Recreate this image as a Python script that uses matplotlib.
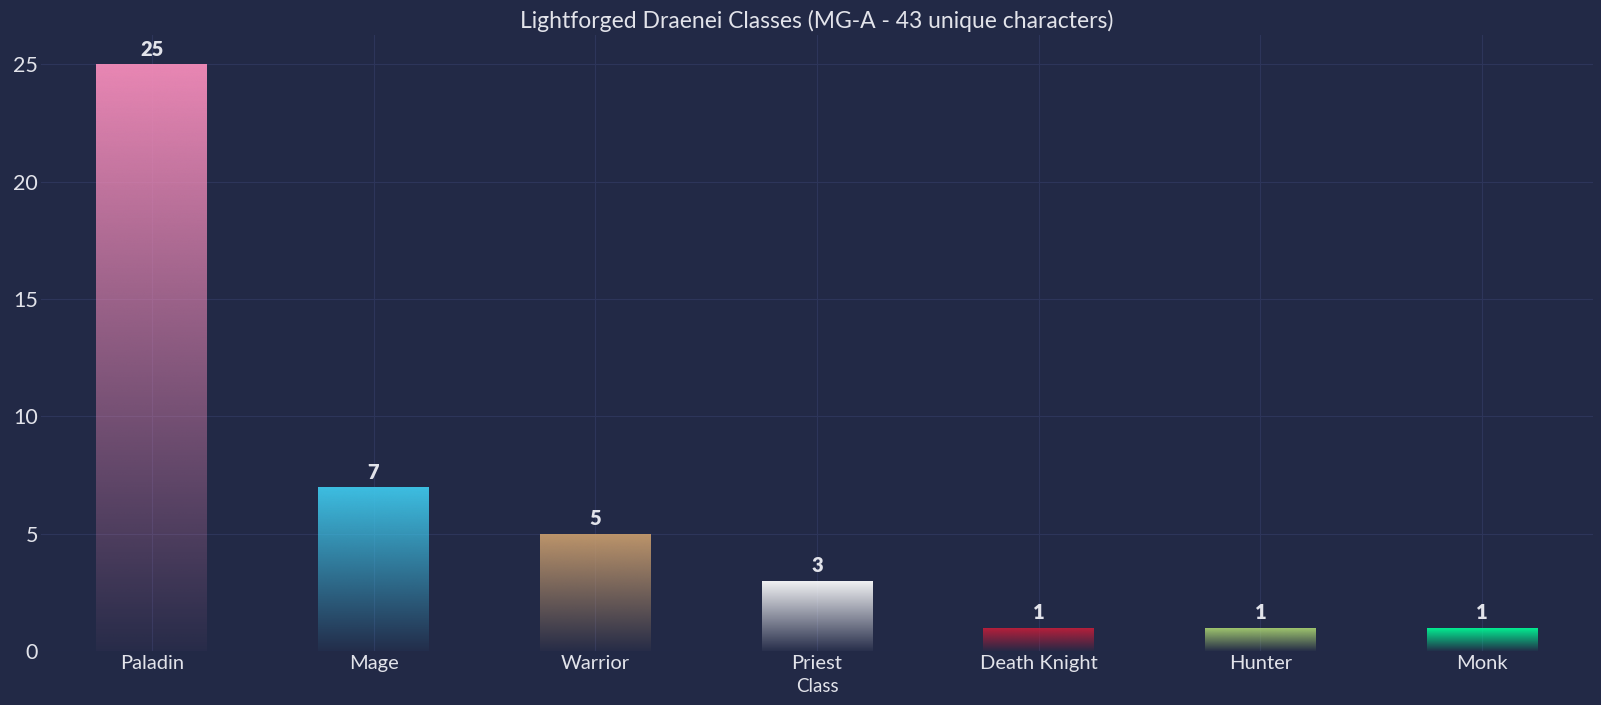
import numpy as np
import matplotlib
matplotlib.use('Agg')
import matplotlib.pyplot as plt
from matplotlib.colors import to_rgb


classes = ['Paladin', 'Mage', 'Warrior', 'Priest', 'Death Knight', 'Hunter', 'Monk']
counts = [25, 7, 5, 3, 1, 1, 1]
class_colors = ['#F48CBA', '#3FC7EB', '#C69B6D', '#FFFFFF', '#C41E3A', '#AAD372', '#00FF98']

bg = '#222946'
grid_col = '#2d355a'
text_col = '#e2e3ea'

plt.rcParams['font.family'] = ['Lato', 'DejaVu Sans']

fig = plt.figure(figsize=(16.01, 7.05), dpi=100, facecolor=bg)
ax = fig.add_axes([0.0256, 0.0766, 0.9694, 0.8738])
ax.set_facecolor(bg)

x = np.arange(len(classes))
bars = ax.bar(x, counts, width=0.5, color='none', edgecolor='none', zorder=2)

# vertical fade: strong colour at the top, almost background at the bottom
for bar, col in zip(bars, class_colors):
    r, g, b = to_rgb(col)
    grad = np.zeros((256, 1, 4))
    grad[:, 0, 0] = r
    grad[:, 0, 1] = g
    grad[:, 0, 2] = b
    grad[:, 0, 3] = np.linspace(0.03, 0.95, 256)
    x0, y0 = bar.get_x(), bar.get_y()
    w, h = bar.get_width(), bar.get_height()
    im = ax.imshow(grad, extent=[x0, x0 + w, y0, y0 + h], origin='lower',
                   aspect='auto', zorder=2, interpolation='bicubic')
    im.set_clip_path(bar)

for xi, v in zip(x, counts):
    ax.text(xi, v + 0.22, str(v), ha='center', va='bottom', fontsize=14.5,
            fontweight='heavy', color=text_col, zorder=3)

ax.set_xlim(-0.5, 6.5)
ax.set_ylim(0, 26.25)
ax.set_yticks([0, 5, 10, 15, 20, 25])
ax.set_xticks(x)
ax.set_xticklabels(classes)
ax.tick_params(axis='x', length=0, labelsize=14.5, colors=text_col, pad=3)
ax.tick_params(axis='y', length=0, labelsize=15.5, colors=text_col, pad=2)
ax.grid(True, color=grid_col, linewidth=0.8, zorder=0)
ax.set_axisbelow(True)
for s in ax.spines.values():
    s.set_visible(False)

ax.set_xlabel('Class', fontsize=13.5, color=text_col, labelpad=4)
ax.set_title('Lightforged Draenei Classes (MG-A - 43 unique characters)',
             fontsize=16.5, color=text_col, pad=5)

fig.savefig('out.png', dpi=100, facecolor=bg)
